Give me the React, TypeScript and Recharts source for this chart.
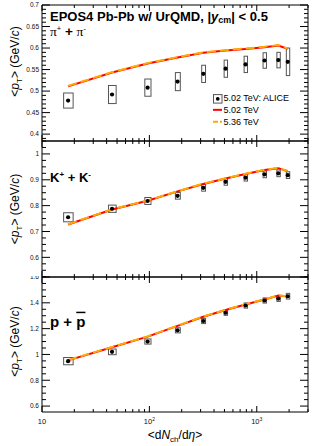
import React from "react";
import { ComposedChart, XAxis, YAxis, Bar, Scatter, Line, Legend } from "recharts";

const FONT = '"Liberation Sans", Arial, Helvetica, sans-serif';

// ALICE centrality classes (80-90% ... 0-5%), <dNch/deta>
const dNchDeta = [17.5, 44.9, 96.3, 183, 318, 512, 786, 1180, 1587, 1943];

// pi+ + pi-
const piAlice = [0.478, 0.492, 0.508, 0.522, 0.54, 0.552, 0.562, 0.571, 0.572, 0.568];
const piSys = [0.0175, 0.021, 0.02, 0.021, 0.02, 0.02, 0.019, 0.018, 0.018, 0.032];
const piEpos502 = [0.511, 0.543, 0.564, 0.578, 0.589, 0.594, 0.598, 0.602, 0.606, 0.598];
const piEpos536 = [0.512, 0.544, 0.565, 0.579, 0.59, 0.595, 0.599, 0.603, 0.607, 0.599];

// K+ + K-
const kAlice = [0.755, 0.788, 0.818, 0.838, 0.869, 0.892, 0.908, 0.921, 0.925, 0.918];
const kSys = [0.0175, 0.014, 0.0135, 0.013, 0.013, 0.013, 0.013, 0.013, 0.013, 0.013];
const kEpos502 = [0.727, 0.785, 0.819, 0.855, 0.884, 0.905, 0.922, 0.938, 0.945, 0.933];
const kEpos536 = [0.728, 0.786, 0.82, 0.856, 0.885, 0.906, 0.923, 0.939, 0.946, 0.934];

// p + pbar
const pAlice = [0.948, 1.02, 1.1, 1.187, 1.259, 1.323, 1.379, 1.418, 1.433, 1.451];
const pSys = [0.028, 0.022, 0.02, 0.02, 0.02, 0.02, 0.02, 0.02, 0.022, 0.022];
const pEpos502 = [0.954, 1.056, 1.138, 1.221, 1.292, 1.344, 1.387, 1.425, 1.456, 1.449];
const pEpos536 = [0.956, 1.058, 1.14, 1.223, 1.294, 1.346, 1.389, 1.427, 1.458, 1.451];

// axes
const xMajorTicks = [10, 100, 1000];
const xTickExponents = [1, 2, 3];
const xMinorTicks = [20, 30, 40, 50, 60, 70, 80, 90, 200, 300, 400, 500, 600, 700, 800, 900, 2000, 3000];

const piYMajor = [0.4, 0.45, 0.5, 0.55, 0.6, 0.65, 0.7];
const piYLabels = ["0.4", "0.45", "0.5", "0.55", "0.6", "0.65", "0.7"];
const kYMajor = [0.6, 0.7, 0.8, 0.9, 1.0];
const kYLabels = ["0.6", "0.7", "0.8", "0.9", "1"];
const pYMajor = [0.6, 0.8, 1.0, 1.2, 1.4, 1.6];
const pYLabels = ["0.6", "0.8", "1", "1.2", "1.4", "1.6"];

const legendLabels = ["5.02 TeV: ALICE", "5.02 TeV", "5.36 TeV"];

const W = 325;
const PLOT_L = 42;
const PLOT_R = 308;
const RED = "#ff0000";
const ORANGE = "#ffaa00";
const SERIF = '"Liberation Serif", "DejaVu Serif", serif';

const rowsOf = (alice: number[], sys: number[], m502: number[], m536: number[]) =>
  dNchDeta.map((x, i) => ({ x, alice: alice[i], sys: sys[i], m502: m502[i], m536: m536[i] }));

const yTicksOf = (lo: number, hi: number, step: number, majors: number[]) => {
  const out: number[] = [];
  for (let k = Math.ceil(lo / step - 1e-6); k * step <= hi + 1e-9; k++) out.push(+(k * step).toFixed(4));
  majors.forEach((m) => { if (!out.some((v) => Math.abs(v - m) < 1e-6)) out.push(m); });
  return out.sort((a, b) => a - b);
};

const findMajor = (majors: number[], v: number) => majors.findIndex((m) => Math.abs(m - v) < 1e-6);

// box width shrinks towards central collisions, like the ROOT plot
const boxWidth = (x: number) => Math.max(3.4, 9.5 - 4.5 * (Math.log10(x) - 1.243));

const SysBox = (props: any) => {
  const { x, y, width, height, payload } = props;
  if (x == null || y == null) return null;
  const cx = x + width / 2;
  const w = boxWidth(payload.x);
  const top = Math.min(y, y + height);
  return <rect x={cx - w / 2} y={top} width={w} height={Math.abs(height)} fill="none" stroke="#555" strokeWidth={1} />;
};

const DataDot = (props: any) => {
  const { cx, cy } = props;
  if (cx == null || cy == null) return null;
  return <circle cx={cx} cy={cy} r={2.1} fill="#000" />;
};

const makeLeftTick = (majors: number[], labels: string[]) => (props: any) => {
  const { y, payload } = props;
  const i = findMajor(majors, payload.value);
  return (
    <g>
      <line x1={PLOT_L} x2={PLOT_L + (i >= 0 ? 8 : 4)} y1={y} y2={y} stroke="#000" />
      {i >= 0 && (
        <text x={PLOT_L - 3} y={y} dy={2.3} textAnchor="end" fontSize={6.5} fontFamily={FONT} fill="#111">
          {labels[i]}
        </text>
      )}
    </g>
  );
};

const makeRightTick = (majors: number[]) => (props: any) => {
  const { y, payload } = props;
  const i = findMajor(majors, payload.value);
  return <line x1={PLOT_R} x2={PLOT_R - (i >= 0 ? 8 : 4)} y1={y} y2={y} stroke="#000" />;
};

const makeXTick = (lineY: number, dir: number, labels: boolean) => (props: any) => {
  const { x, payload } = props;
  const i = findMajor(xMajorTicks, payload.value);
  const len = i >= 0 ? 6 : 3;
  return (
    <g>
      <line x1={x} x2={x} y1={lineY} y2={lineY + dir * len} stroke="#000" />
      {labels && i >= 0 && (
        <text x={x} y={lineY + 12.4} textAnchor="middle" fontSize={7.5} fontFamily={FONT} fill="#111">
          10
          {xTickExponents[i] > 1 && (
            <tspan fontSize={5} dy={-3}>
              {xTickExponents[i]}
            </tspan>
          )}
        </text>
      )}
    </g>
  );
};

const LegendBox = () => (
  <div style={{ fontFamily: FONT, fontSize: 9, color: "#000" }}>
    {legendLabels.map((label, i) => (
      <div key={label} style={{ display: "flex", alignItems: "center", height: 11.7, whiteSpace: "nowrap" }}>
        <svg width={11} height={11.7} style={{ display: "block" }}>
          {i === 0 && (
            <>
              <rect x={1.5} y={1.6} width={8.5} height={8.5} fill="none" stroke="#555" />
              <circle cx={5.75} cy={5.85} r={1.9} fill="#000" />
            </>
          )}
          {i === 1 && <line x1={1} x2={10} y1={5.85} y2={5.85} stroke={RED} strokeWidth={2} />}
          {i === 2 && <line x1={1} x2={10} y1={5.85} y2={5.85} stroke={ORANGE} strokeWidth={2} strokeDasharray="5 2" />}
        </svg>
        <span style={{ marginLeft: 0.5 }}>{label}</span>
      </div>
    ))}
  </div>
);

type PanelProps = {
  rows: any[];
  domain: [number, number];
  yTicks: number[];
  yMajor: number[];
  yLabels: string[];
  top: number;
  height: number;
  topAxisH: number;
  bottomAxisH: number;
  xLabels: boolean;
  legend?: boolean;
};

const Panel = ({ rows, domain, yTicks, yMajor, yLabels, top, height, topAxisH, bottomAxisH, xLabels, legend }: PanelProps) => {
  const xTicks = [...xMajorTicks, ...xMinorTicks].sort((a, b) => a - b);
  const plotBottom = height - bottomAxisH;
  return (
    <div style={{ position: "absolute", left: 0, top }}>
      <ComposedChart width={W} height={height} data={rows} margin={{ top: 0, right: 0, bottom: 0, left: 0 }}>
        <XAxis
          xAxisId="b"
          dataKey="x"
          type="number"
          scale="log"
          domain={[10, 3000]}
          allowDataOverflow
          ticks={xTicks}
          interval={0}
          height={bottomAxisH}
          tickSize={0}
          tickLine={false}
          axisLine={{ stroke: "#000" }}
          tick={makeXTick(plotBottom, -1, xLabels)}
        />
        <XAxis
          xAxisId="t"
          orientation="top"
          dataKey="x"
          type="number"
          scale="log"
          domain={[10, 3000]}
          allowDataOverflow
          ticks={xTicks}
          interval={0}
          height={topAxisH}
          tickSize={0}
          tickLine={false}
          axisLine={{ stroke: "#000" }}
          tick={makeXTick(topAxisH, 1, false)}
        />
        <YAxis
          yAxisId="l"
          type="number"
          domain={domain}
          allowDataOverflow
          ticks={yTicks}
          interval={0}
          width={PLOT_L}
          tickSize={0}
          tickLine={false}
          axisLine={{ stroke: "#000" }}
          tick={makeLeftTick(yMajor, yLabels)}
        />
        <YAxis
          yAxisId="r"
          orientation="right"
          type="number"
          domain={domain}
          allowDataOverflow
          ticks={yTicks}
          interval={0}
          width={W - PLOT_R}
          tickSize={0}
          tickLine={false}
          axisLine={{ stroke: "#000" }}
          tick={makeRightTick(yMajor)}
        />
        <Bar
          xAxisId="b"
          yAxisId="l"
          dataKey={(d: any) => [d.alice - d.sys, d.alice + d.sys]}
          barSize={8}
          shape={SysBox}
          isAnimationActive={false}
        />
        <Scatter xAxisId="b" yAxisId="l" dataKey="alice" shape={DataDot} isAnimationActive={false} />
        <Line xAxisId="b" yAxisId="l" type="linear" dataKey="m502" stroke={RED} strokeWidth={2} dot={false} isAnimationActive={false} />
        <Line
          xAxisId="b"
          yAxisId="l"
          type="linear"
          dataKey="m536"
          stroke={ORANGE}
          strokeWidth={2}
          strokeDasharray="9 4"
          dot={false}
          isAnimationActive={false}
        />
        {legend && (
          <Legend
            layout="vertical"
            align="center"
            verticalAlign="middle"
            content={LegendBox}
            wrapperStyle={{ left: 212, top: 92.5, width: 100 }}
          />
        )}
      </ComposedChart>
    </div>
  );
};

const YTitle = ({ cy }: { cy: number }) => (
  <text transform={`translate(19, ${cy}) rotate(-90)`} textAnchor="middle" fontSize={12} fontFamily={FONT} fill="#000">
    &lt;<tspan fontStyle="italic">p</tspan>
    <tspan fontSize={8} dy={3}>T</tspan>
    <tspan dy={-3}>&gt; (GeV/</tspan>
    <tspan fontStyle="italic">c</tspan>)
  </text>
);

const App = () => {
  const piRows = rowsOf(piAlice, piSys, piEpos502, piEpos536);
  const kRows = rowsOf(kAlice, kSys, kEpos502, kEpos536);
  const pRows = rowsOf(pAlice, pSys, pEpos502, pEpos536);
  return (
    <div style={{ position: "absolute", left: 0, top: 0, width: W, height: 446, background: "#fff", overflow: "hidden" }}>
      <Panel
        rows={piRows}
        domain={[0.384, 0.7]}
        yTicks={yTicksOf(0.384, 0.7, 0.01, piYMajor)}
        yMajor={piYMajor}
        yLabels={piYLabels}
        top={0}
        height={142}
        topAxisH={5}
        bottomAxisH={1}
        xLabels={false}
        legend
      />
      <Panel
        rows={kRows}
        domain={[0.524, 1.05]}
        yTicks={yTicksOf(0.524, 1.05, 0.025, kYMajor)}
        yMajor={kYMajor}
        yLabels={kYLabels}
        top={140}
        height={138}
        topAxisH={1}
        bottomAxisH={1}
        xLabels={false}
      />
      <Panel
        rows={pRows}
        domain={[0.554, 1.6]}
        yTicks={yTicksOf(0.554, 1.6, 0.05, pYMajor)}
        yMajor={pYMajor}
        yLabels={pYLabels}
        top={276}
        height={170}
        topAxisH={1}
        bottomAxisH={34}
        xLabels
      />
      <svg width={W} height={446} style={{ position: "absolute", left: 0, top: 0, pointerEvents: "none" }}>
        <text x={50} y={20.7} fontSize={13} fontWeight="bold" fontFamily={FONT} fill="#000">
          EPOS4 Pb-Pb w/ UrQMD, |<tspan fontStyle="italic">y</tspan>
          <tspan fontSize={9} dy={2}>cm</tspan>
          <tspan dy={-2}>| &lt; 0.5</tspan>
        </text>
        <text x={50} y={35.5} fontSize={13.5} fontFamily={FONT} fill="#000">
          <tspan fontFamily={SERIF}>π</tspan>
          <tspan fontSize={7.5} dy={-5}>+</tspan>
          <tspan dy={5} fontWeight="bold"> + </tspan>
          <tspan fontFamily={SERIF}>π</tspan>
          <tspan fontSize={7.5} dy={-5}>-</tspan>
        </text>
        <text x={50} y={181.7} fontSize={13} fontWeight="bold" fontFamily={FONT} fill="#000">
          K<tspan fontSize={8} dy={-5}>+</tspan>
          <tspan dy={5}> + K</tspan>
          <tspan fontSize={8} dy={-5}>-</tspan>
        </text>
        <text x={50} y={326.7} fontSize={15} fontWeight="bold" fontFamily={FONT} fill="#000">
          p + <tspan style={{ textDecoration: "overline" }}>p</tspan>
        </text>
        <YTitle cy={61.5} />
        <YTitle cy={209} />
        <YTitle cy={341.5} />
        <text x={175} y={439} textAnchor="middle" fontSize={12} fontFamily={FONT} fill="#000">
          &lt;d<tspan fontStyle="italic">N</tspan>
          <tspan fontSize={8} dy={2.5}>ch</tspan>
          <tspan dy={-2.5}>/d</tspan>
          <tspan fontStyle="italic">η</tspan>&gt;
        </text>
      </svg>
    </div>
  );
};

export default App;
